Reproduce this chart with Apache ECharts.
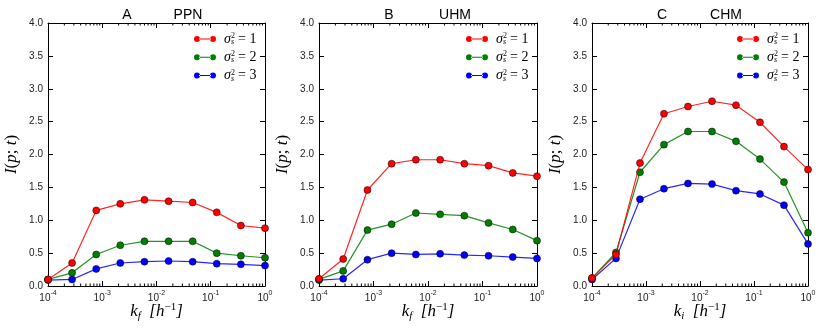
<!DOCTYPE html>
<html><head><meta charset="utf-8">
<script src="https://cdn.jsdelivr.net/npm/echarts@6/dist/echarts.min.js"></script>
<style>html,body{margin:0;padding:0;background:#fff}#c{width:830px;height:334px}</style>
</head><body><div id="c"></div>
<script>
// x positions (k, h^-1)
const xVals = [1e-4, 2.78e-4, 7.74e-4, 2.15e-3, 5.99e-3, 1.67e-2, 4.64e-2, 0.129, 0.359, 1];
// Panel A  PPN
const ppnS1 = [0.10, 0.35, 1.15, 1.25, 1.31, 1.29, 1.27, 1.12, 0.92, 0.88];
const ppnS2 = [0.10, 0.20, 0.48, 0.62, 0.68, 0.68, 0.68, 0.50, 0.46, 0.43];
const ppnS3 = [0.09, 0.10, 0.26, 0.35, 0.37, 0.38, 0.37, 0.34, 0.33, 0.31];
// Panel B  UHM
const uhmS1 = [0.11, 0.41, 1.46, 1.86, 1.92, 1.92, 1.86, 1.83, 1.72, 1.67];
const uhmS2 = [0.10, 0.23, 0.85, 0.94, 1.11, 1.09, 1.07, 0.96, 0.86, 0.69];
const uhmS3 = [0.09, 0.11, 0.40, 0.50, 0.48, 0.49, 0.47, 0.46, 0.44, 0.42];
// Panel C  CHM
const chmS1 = [0.12, 0.48, 1.87, 2.62, 2.73, 2.81, 2.75, 2.49, 2.12, 1.77];
const chmS2 = [0.12, 0.51, 1.73, 2.15, 2.35, 2.35, 2.20, 1.93, 1.58, 0.81];
const chmS3 = [0.10, 0.42, 1.32, 1.48, 1.56, 1.55, 1.45, 1.40, 1.23, 0.64];

const panelLetters = ['A', 'B', 'C'];
const panelNames = ['PPN', 'UHM', 'CHM'];
const xSub = ['f', 'f', 'i'];
const seriesNames = ['s1', 's2', 's3'];
const legendValues = ['1', '2', '3'];
const yMin = 0, yMax = 4, yStep = 0.5;
const minorTicks = [];
[1e-4, 1e-3, 1e-2, 1e-1].forEach(d => { for (let m = 2; m <= 9; m++) minorTicks.push(+(d * m).toPrecision(3)); });

const panelData = [[ppnS1, ppnS2, ppnS3], [uhmS1, uhmS2, uhmS3], [chmS1, chmS2, chmS3]];
const colors = ['#ff0000', '#007f00', '#0000ff'];

const grids = [
  {left: 48, top: 23, width: 217, height: 263},
  {left: 319, top: 23, width: 218, height: 263},
  {left: 592, top: 23, width: 216, height: 263}
];
const letterX = [127, 389, 662];
const nameX = [188, 455, 726];

const mathFont = 'Liberation Serif';

const xAxes = [], yAxes = [], series = [], graphics = [], legends = [];
grids.forEach((g, i) => {
  xAxes.push({
    type: 'log', logBase: 10, gridIndex: i, min: 1e-4, max: 1, splitNumber: 4,
    position: 'bottom',
    axisLine: {show: true, onZero: false, lineStyle: {color: '#000', width: 1}},
    axisTick: {show: true, inside: true, length: 5, lineStyle: {color: '#000'}},
    splitLine: {show: false},
    axisLabel: {
      margin: 4,
      formatter: v => '{b|10}{e|' + Math.round(Math.log10(v)) + '}',
      rich: {
        b: {fontFamily: 'Liberation Sans', fontSize: 10, color: '#222', verticalAlign: 'bottom', lineHeight: 13},
        e: {fontFamily: 'Liberation Sans', fontSize: 7, color: '#222', verticalAlign: 'top'}
      }
    },
    name: '{k|k}{s|' + xSub[i] + '}{t|  [h}{e|−1}{t|]}',
    nameLocation: 'middle', nameGap: 16, nameMoveOverlap: false,
    nameTextStyle: {
      rich: {
        k: {fontFamily: mathFont, fontStyle: 'italic', fontSize: 17, color: '#000', lineHeight: 20},
        s: {fontFamily: mathFont, fontStyle: 'italic', fontSize: 11, color: '#000', verticalAlign: 'bottom'},
        t: {fontFamily: mathFont, fontStyle: 'italic', fontSize: 17, color: '#000', lineHeight: 20},
        e: {fontFamily: mathFont, fontSize: 11, color: '#000', verticalAlign: 'top'}
      }
    }
  });
  xAxes.push({
    type: 'log', logBase: 10, gridIndex: i, min: 1e-4, max: 1, splitNumber: 4,
    position: 'top',
    axisLine: {show: true, onZero: false, lineStyle: {color: '#000', width: 1}},
    axisTick: {show: true, inside: true, length: 5, lineStyle: {color: '#000'}},
    splitLine: {show: false}, axisLabel: {show: false}
  });
  yAxes.push({
    type: 'value', gridIndex: i, min: yMin, max: yMax, interval: yStep, position: 'left',
    axisLine: {show: true, onZero: false, lineStyle: {color: '#000', width: 1}},
    axisTick: {show: true, inside: true, length: 5, lineStyle: {color: '#000'}},
    splitLine: {show: false},
    axisLabel: {margin: 5, formatter: v => v.toFixed(1), fontFamily: 'Liberation Sans', fontSize: 10, color: '#222'},
    name: '{i|I}{t|(}{i|p}{t|; }{i|t}{t|)}',
    nameLocation: 'middle', nameGap: 28, nameRotate: 90,
    nameTextStyle: {
      rich: {
        i: {fontFamily: mathFont, fontStyle: 'italic', fontSize: 17, color: '#000'},
        t: {fontFamily: mathFont, fontSize: 17, color: '#000'}
      }
    }
  });
  yAxes.push({
    type: 'value', gridIndex: i, min: yMin, max: yMax, interval: yStep, position: 'right',
    axisLine: {show: true, onZero: false, lineStyle: {color: '#000', width: 1}},
    axisTick: {show: true, inside: true, length: 5, lineStyle: {color: '#000'}},
    splitLine: {show: false}, axisLabel: {show: false}
  });

  panelData[i].forEach((arr, j) => {
    series.push({
      type: 'line', name: seriesNames[j], xAxisIndex: 2 * i, yAxisIndex: 2 * i,
      data: xVals.map((x, k) => [x, arr[k]]),
      symbol: 'circle', symbolSize: 7, clip: true,
      lineStyle: {color: colors[j], width: 1.2, opacity: 0.85},
      itemStyle: {color: colors[j], borderColor: '#000', borderWidth: 0.5},
      emphasis: {disabled: true}, z: 5 - j
    });
  });
  // minor log ticks
  series.push({
    type: 'custom', xAxisIndex: 2 * i, yAxisIndex: 2 * i, silent: true,
    data: minorTicks.map(v => [v]),
    renderItem: (params, api) => {
      const b = api.coord([api.value(0), yMin]);
      const t = api.coord([api.value(0), yMax]);
      return {type: 'group', children: [
        {type: 'line', shape: {x1: b[0], y1: b[1], x2: b[0], y2: b[1] - 2.5}, style: {stroke: '#000', lineWidth: 1}},
        {type: 'line', shape: {x1: t[0], y1: t[1], x2: t[0], y2: t[1] + 2.5}, style: {stroke: '#000', lineWidth: 1}}
      ]};
    }
  });

  graphics.push({type: 'text', x: letterX[i], y: 15, style: {text: panelLetters[i], textAlign: 'center', textVerticalAlign: 'middle',
    fontFamily: 'Liberation Sans', fontSize: 14, fill: '#000'}});
  graphics.push({type: 'text', x: nameX[i], y: 15, style: {text: panelNames[i], textAlign: 'center', textVerticalAlign: 'middle',
    fontFamily: 'Liberation Sans', fontSize: 14, fill: '#000'}});

  legends.push({
    left: g.left + g.width - 71, top: 32, orient: 'vertical', padding: 0,
    itemWidth: 22, itemHeight: 6, itemGap: 4.3,
    icon: 'path://M0,3 a3,3 0 1,0 6,0 a3,3 0 1,0 -6,0 Z M16,3 a3,3 0 1,0 6,0 a3,3 0 1,0 -6,0 Z M5,2.5 L17,2.5 L17,3.5 L5,3.5 Z',
    itemStyle: {borderWidth: 0},
    data: seriesNames,
    selectedMode: false,
    formatter: name => '{g|σ}{s|s}{p|2}{e|= ' + legendValues[seriesNames.indexOf(name)] + '}',
    textStyle: {
      lineHeight: 14,
      rich: {
        g: {fontFamily: mathFont, fontStyle: 'italic', fontSize: 14, color: '#000', lineHeight: 14, padding: [0, 0, 0, 3]},
        s: {fontFamily: mathFont, fontStyle: 'italic', fontSize: 8, color: '#000', verticalAlign: 'bottom', width: 0.1},
        p: {fontFamily: mathFont, fontSize: 8, color: '#000', verticalAlign: 'top', padding: [0, 3, 0, 0]},
        e: {fontFamily: mathFont, fontSize: 14, color: '#000', lineHeight: 14}
      }
    }
  });
});

const chart = echarts.init(document.getElementById('c'), null, {renderer: 'canvas'});
chart.setOption({
  animation: false,
  backgroundColor: '#fff',
  legend: legends,
  grid: grids,
  xAxis: xAxes,
  yAxis: yAxes,
  series: series,
  graphic: graphics
});
</script>
</body></html>
